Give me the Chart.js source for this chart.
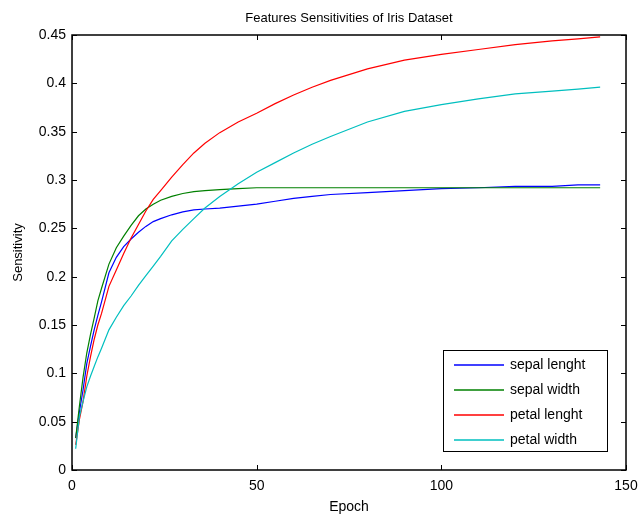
<!DOCTYPE html>
<html lang="en">
<head>
    <meta charset="utf-8">
    <title>Features Sensitivities of Iris Dataset</title>
    <script src="https://cdn.jsdelivr.net/npm/chart.js@4.4.1/dist/chart.umd.min.js"></script>
    <style>
        html, body { margin: 0; padding: 0; background: #fff; }
        #wrap { width: 638px; height: 517px; }
    </style>
</head>
<body>
    <div id="wrap"><canvas id="chart"></canvas></div>
    <script>
        // values
        const epochs = [1, 2, 3, 4, 5, 6, 7, 8, 10, 12, 14, 16, 18, 20, 22, 24, 27, 30, 33, 36, 40, 45, 50, 55, 60, 65, 70, 80, 90, 100, 110, 120, 130, 137, 143];
        const sepalLength = [0.033, 0.060, 0.083, 0.110, 0.128, 0.145, 0.160, 0.174, 0.204, 0.220, 0.231, 0.239, 0.246, 0.252, 0.257, 0.260, 0.264, 0.267, 0.269, 0.270, 0.271, 0.273, 0.275, 0.278, 0.281, 0.283, 0.285, 0.287, 0.289, 0.291, 0.292, 0.2935, 0.2935, 0.295, 0.295];
        const sepalWidth = [0.033, 0.066, 0.096, 0.121, 0.140, 0.157, 0.175, 0.188, 0.213, 0.230, 0.242, 0.253, 0.263, 0.270, 0.275, 0.279, 0.283, 0.286, 0.288, 0.289, 0.290, 0.291, 0.292, 0.292, 0.292, 0.292, 0.292, 0.292, 0.292, 0.292, 0.292, 0.292, 0.292, 0.292, 0.292];
        const petalLength = [0.026, 0.052, 0.071, 0.097, 0.117, 0.135, 0.150, 0.162, 0.190, 0.207, 0.224, 0.240, 0.254, 0.268, 0.280, 0.289, 0.303, 0.316, 0.328, 0.338, 0.349, 0.360, 0.369, 0.379, 0.388, 0.396, 0.403, 0.415, 0.424, 0.430, 0.435, 0.440, 0.444, 0.446, 0.448];
        const petalWidth = [0.022, 0.055, 0.071, 0.086, 0.097, 0.107, 0.117, 0.126, 0.145, 0.158, 0.170, 0.180, 0.191, 0.201, 0.211, 0.221, 0.237, 0.249, 0.260, 0.271, 0.283, 0.296, 0.308, 0.318, 0.328, 0.337, 0.345, 0.360, 0.371, 0.378, 0.384, 0.389, 0.392, 0.394, 0.396];

        const seriesNames = ['sepal lenght', 'sepal width', 'petal lenght', 'petal width'];
        const seriesColors = ['#0000ff', '#008000', '#ff0000', '#00bfbf'];
        const xTicks = [0, 50, 100, 150];
        const yTicks = [0, 0.05, 0.1, 0.15, 0.2, 0.25, 0.3, 0.35, 0.4, 0.45];

        const FONT = '"Liberation Sans", Arial, sans-serif';

        const toPoints = (vals) => epochs.map((e, i) => ({ x: e, y: vals[i] }));
        const allSeries = [sepalLength, sepalWidth, petalLength, petalWidth];

        // matlab style box with inward ticks
        const boxPlugin = {
            id: 'box',
            afterDatasetsDraw(chart) {
                const { ctx, chartArea: a, scales } = chart;
                const tl = 5;
                ctx.save();
                ctx.strokeStyle = '#000';
                ctx.lineWidth = 1;
                ctx.beginPath();
                xTicks.forEach(v => {
                    const px = Math.round(scales.x.getPixelForValue(v)) + 0.5;
                    ctx.moveTo(px, a.bottom); ctx.lineTo(px, a.bottom - tl);
                    ctx.moveTo(px, a.top); ctx.lineTo(px, a.top + tl);
                });
                yTicks.forEach(v => {
                    const py = Math.round(scales.y.getPixelForValue(v)) + 0.5;
                    ctx.moveTo(a.left, py); ctx.lineTo(a.left + tl, py);
                    ctx.moveTo(a.right, py); ctx.lineTo(a.right - tl, py);
                });
                ctx.stroke();
                ctx.lineWidth = 1.5;
                ctx.strokeRect(a.left, a.top, a.right - a.left, a.bottom - a.top);

                // legend inside, bottom right
                const w = 164, h = 101;
                const lx = a.right - 19 - w, ly = a.bottom - 19 - h;
                ctx.fillStyle = '#fff';
                ctx.fillRect(lx, ly, w, h);
                ctx.lineWidth = 1;
                ctx.strokeStyle = '#000';
                ctx.strokeRect(lx + 0.5, ly + 0.5, w, h);
                ctx.font = '14px ' + FONT;
                ctx.textBaseline = 'middle';
                seriesNames.forEach((name, i) => {
                    const y = ly + 15 + i * 25;
                    ctx.strokeStyle = seriesColors[i];
                    ctx.lineWidth = 1.5;
                    ctx.beginPath();
                    ctx.moveTo(lx + 11, y);
                    ctx.lineTo(lx + 61, y);
                    ctx.stroke();
                    ctx.fillStyle = '#000';
                    ctx.fillText(name, lx + 67, y);
                });
                ctx.restore();
            }
        };

        new Chart(document.getElementById('chart'), {
            type: 'line',
            data: {
                datasets: allSeries.map((vals, i) => ({
                    label: seriesNames[i],
                    data: toPoints(vals),
                    borderColor: seriesColors[i],
                    backgroundColor: seriesColors[i],
                    borderWidth: 1.2,
                    pointRadius: 0,
                    tension: 0,
                    fill: false,
                    order: 4 - i
                }))
            },
            options: {
                responsive: true,
                maintainAspectRatio: false,
                animation: false,
                layout: { padding: 0 },
                plugins: {
                    legend: { display: false },
                    tooltip: { enabled: false },
                    title: {
                        display: true,
                        text: 'Features Sensitivities of Iris Dataset',
                        fullSize: false,
                        color: '#000',
                        font: { family: FONT, size: 13, weight: 'normal' },
                        padding: { top: 11, bottom: 8.4 }
                    }
                },
                scales: {
                    x: {
                        type: 'linear',
                        min: 0,
                        max: 150,
                        afterFit: (s) => { s.height = 47; s.paddingLeft = 0; s.paddingRight = 12; },
                        afterBuildTicks: (s) => { s.ticks = xTicks.map(v => ({ value: v })); },
                        grid: { display: false, drawTicks: false },
                        border: { display: false },
                        ticks: { color: '#000', padding: 8, font: { family: FONT, size: 14 }, maxRotation: 0 },
                        title: {
                            display: true, text: 'Epoch', color: '#000',
                            font: { family: FONT, size: 14 }, padding: { top: 0, bottom: 1.6 }
                        }
                    },
                    y: {
                        min: 0,
                        max: 0.45,
                        afterFit: (s) => { s.width = 72; s.paddingTop = 0; s.paddingBottom = 0; },
                        afterBuildTicks: (s) => { s.ticks = yTicks.map(v => ({ value: v })); },
                        grid: { display: false, drawTicks: false },
                        border: { display: false },
                        ticks: {
                            color: '#000', padding: 6, font: { family: FONT, size: 14 },
                            callback: (v) => String(Number(v.toFixed(2)))
                        },
                        title: {
                            display: true, text: 'Sensitivity', color: '#000',
                            font: { family: FONT, size: 13 }, padding: { top: 10.6, bottom: 0 }
                        }
                    }
                }
            },
            plugins: [boxPlugin]
        });
    </script>
</body>
</html>
